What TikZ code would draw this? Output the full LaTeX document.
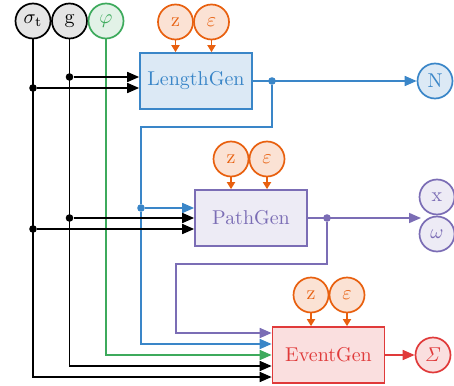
\documentclass[tikz,border=0pt]{standalone}
\usetikzlibrary{arrows.meta}
\definecolor{cblue}{HTML}{3A86C8}
\definecolor{cpurple}{HTML}{7B6DB5}
\definecolor{cred}{HTML}{E03A3A}
\definecolor{corange}{HTML}{E8600F}
\definecolor{cgreen}{HTML}{3DAA5C}
\tikzset{
    var/.style={circle,draw,line width=0.85pt,minimum size=17.5pt,inner sep=0pt},
    noise/.style={var,draw=corange,fill=corange!18,text=corange},
    gen/.style={draw,line width=0.85pt,minimum width=56pt,minimum height=28pt},
    dot/.style={circle,fill,inner sep=0pt,minimum size=3.8pt},
    flow/.style={line width=0.85pt,-{Triangle[length=6pt,width=5pt]}},
    drip/.style={line width=0.85pt,-{Triangle[length=3.5pt,width=4pt]}}
}

\begin{document}
\begin{tikzpicture}[x=0.5pt,y=-0.5pt]
    \useasboundingbox (0,0) rectangle (454,385);

    \node[var,fill=black!10] (sig) at (33,21) {$\sigma_\mathrm{t}$}; %in
    \node[var,fill=black!10] (g) at (69.5,21) {g}; %in
    \node[var,draw=cgreen,fill=cgreen!15,text=cgreen] (phi) at (106,21) {$\varphi$}; %in

    \node[gen,draw=cblue,fill=cblue!18,text=cblue] (len) at (196,81) {LengthGen};
    \node[gen,draw=cpurple,fill=cpurple!14,text=cpurple] (pth) at (251,218) {PathGen};
    \node[gen,draw=cred,fill=cred!16,text=cred] (evt) at (328.5,355) {EventGen};

    \node[var,draw=cblue,fill=cblue!18,text=cblue] (N) at (435,81) {N}; %out
    \node[var,draw=cpurple,fill=cpurple!14,text=cpurple] (xv) at (437,197) {x}; %out
    \node[var,draw=cpurple,fill=cpurple!14,text=cpurple] (om) at (437,234) {$\omega$}; %out
    \node[var,draw=cred,fill=cred!16,text=cred] (Sg) at (433,355) {$\mathit{\Sigma}$}; %out
    \coordinate (pout) at (421,218);

    \foreach \G/\X/\Y in {len/175.5/22,pth/231/159,evt/311/295}
    {\node[noise] (z\G) at (\X,\Y) {z};
    \node[noise] (e\G) at (\X+36,\Y) {$\varepsilon$};
    \draw[drip,corange] (z\G) -- (z\G |- \G.north);
    \draw[drip,corange] (e\G) -- (e\G |- \G.north); }

    \node[dot,cblue] (bl1) at (272,81) {};
    \node[dot,cblue] (bl2) at (141,208) {};
    \node[dot,cpurple] (pu1) at (327,218) {};
    \node[dot] (s1) at (33,88) {};
    \node[dot] (s2) at (33,229) {};
    \node[dot] (g1) at (69.5,77) {};
    \node[dot] (g2) at (69.5,218) {};

    \draw[flow,cgreen] (phi) |- (evt.west);
    \draw[flow,cblue] (len) -- (N);
    \draw[flow,cblue] (bl1) -- (bl1 |- 0,127) -| (bl2) |- (evt.west |- 0,344);
    \draw[flow,cblue] (bl2) -- (bl2 -| pth.west);
    \draw[flow,cpurple] (pth) -- (pout);
    \draw[flow,cpurple] (pu1) -- (pu1 |- 0,264) -| (176,333) -- (evt.west |- 0,333);
    \draw[flow,cred] (evt) -- (Sg);

    \draw[flow] (g) |- (evt.west |- 0,366);
    \draw[flow] (sig) |- (evt.west |- 0,377);
    \draw[flow] (g1) -- (g1 -| len.west);
    \draw[flow] (s1) -- (s1 -| len.west);
    \draw[flow] (g2) -- (g2 -| pth.west);
    \draw[flow] (s2) -- (s2 -| pth.west);
\end{tikzpicture}
\end{document}
